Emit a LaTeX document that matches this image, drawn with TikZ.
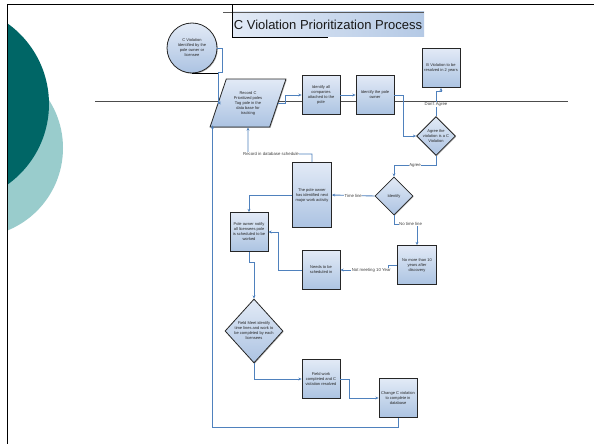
\documentclass[tikz,border=0pt]{standalone}
\usepackage{fontspec}
\setmainfont{Liberation Sans}
\usetikzlibrary{shapes.geometric,shadows,arrows.meta,calc}
\definecolor{connc}{RGB}{79,129,189}
\definecolor{boxtop}{RGB}{226,234,246}
\definecolor{boxbot}{RGB}{172,195,226}
\definecolor{darkteal}{RGB}{0,102,102}
\definecolor{lightteal}{RGB}{153,204,204}
\tikzset{
 fl/.style={draw=black!85, line width=0.8pt, top color=boxtop, bottom color=boxbot,
   align=center, font=\fontsize{4}{5}\selectfont, text=black!85, inner sep=0.5pt,
   drop shadow={shadow xshift=0.8pt, shadow yshift=-0.8pt, fill=black!60}},
 procbox/.style={fl, rectangle, minimum width=38pt, minimum height=39pt},
 decision/.style={fl, diamond, minimum width=38pt, minimum height=38pt, inner sep=0pt},
 conn/.style={draw=connc, line width=0.9pt, -{Stealth[length=3.2pt,width=2.8pt]}},
 lbl/.style={fill=white, font=\fontsize{4.3}{5}\selectfont, text=black!75, inner sep=0.4pt},
 titlebox/.style={left color=boxtop, right color=boxbot!90, minimum width=192pt,
   minimum height=25pt, inner sep=0pt, font=\fontsize{13}{15}\selectfont, text=black!90},
}
\begin{document}
\begin{tikzpicture}[x=1pt,y=-1pt]
\useasboundingbox (0,0) rectangle (594,444);
\fill[white] (0,0) rectangle (594,444);
% decorative circles
\begin{scope}
\clip (8,4) rectangle (120,444);
\fill[lightteal] (-26,148) circle (89);
\fill[darkteal] (-50,104) circle (99);
\end{scope}
% slide frame
\draw[black, line width=1.4pt] (594,4.5) -- (7.5,4.5) -- (7.5,444);
% title
\node[titlebox] (title) at (328,24.5) {C Violation Prioritization Process};
\draw[black!65, line width=0.9pt] (223,12) -- (424,12);
\draw[black, line width=0.8pt] (232,4.5) -- (232,37) -- (328,37);
% swim line
\draw[black!70, line width=0.9pt] (95,101) -- (568,101);
% nodes
\node[fl, circle, minimum size=50pt] (circ) at (192,48) {C Violation\\Identified by the\\pole owner or\\licensee};
\draw[black, line width=1pt] (192,73.5) -- (218,73.5);
\node[fl, trapezium, trapezium left angle=66, trapezium right angle=114, trapezium stretches=true,
  minimum width=76pt, minimum height=48pt] (rec) at (248,103)
  {Record C\\Prioritized poles\\Tag pole in the\\data base for\\tracking};
\node[procbox] (idall) at (321,95) {Identify all\\companies\\attached to the\\pole};
\node[procbox] (idown) at (375,95) {Identify the pole\\owner};
\node[procbox] (bvio) at (441,68) {B Violation to be\\resolved in 2 years};
\node[decision] (agree) at (436,136) {Agree the\\violation is a C\\Violation};
\node[decision] (ident) at (394,196) {Identify};
\node[procbox, minimum width=39pt, minimum height=65pt] (powner) at (312,195) {The pole owner\\has identified next\\major work activity};
\node[procbox] (notify) at (249,232) {Pole owner notify\\all licensees pole\\is scheduled to be\\worked};
\node[procbox] (needs) at (321,270) {Needs to be\\scheduled in};
\node[procbox, minimum width=39pt] (nomore) at (417,265) {No more than 10\\years after\\discovery};
\node[decision, minimum width=58pt, minimum height=64pt] (field) at (254,331) {Field Meet identify\\time lines and work to\\be completed by each\\licensees};
\node[procbox] (fwork) at (321,379) {Field work\\completed and C\\violation resolved};
\node[procbox] (chg) at (398,398) {Change C violation\\to complete in\\database};
% connectors
\draw[conn] (circ.east) -- (222,48) -- (222,72) -- (218,72) |- (rec.west);
\draw[conn] (rec.east) -- (285,103) |- (idall.west);
\draw[conn] (idall.east) -- (idown.west);
\draw[conn] (idown.east) -- (403,95) |- (agree.west);
\draw[conn] (agree.north) -- node[lbl, pos=0.45]{Don't Agree} (436,91) -- (441,91) -- (bvio.south);
\draw[conn] (agree.south) -- (436,165) -- node[lbl]{Agree} (394,165) -- (ident.north);
\draw[conn] (ident.west) -- node[lbl]{Time line} (powner.east);
\draw[conn] (ident.south) -- (394,224) -- node[lbl, pos=0.72]{No time line} (417,224) -- (nomore.north);
\draw[conn] (nomore.west) -- (388,265) -- (388,270) -- node[lbl, pos=0.35]{Not meeting 10 Year} (needs.east);
\draw[conn] (needs.west) -- (278,270) |- (notify.east);
\draw[conn] (powner.west) -| (notify.north);
\draw[conn] (powner.north) -- (312,154) -- node[lbl, pos=0.64]{Record in database schedule} (248,154) -- (rec.south);
\draw[conn] (notify.south) -- (249,262) -- (254,262) -- (field.north);
\draw[conn] (field.south) |- (fwork.west);
\draw[conn] (fwork.east) -- (349,379) |- (chg.west);
\draw[conn] (chg.south) -- (398,427) -| ($(rec.bottom left corner)+(3,-2)$);
\end{tikzpicture}
\end{document}
